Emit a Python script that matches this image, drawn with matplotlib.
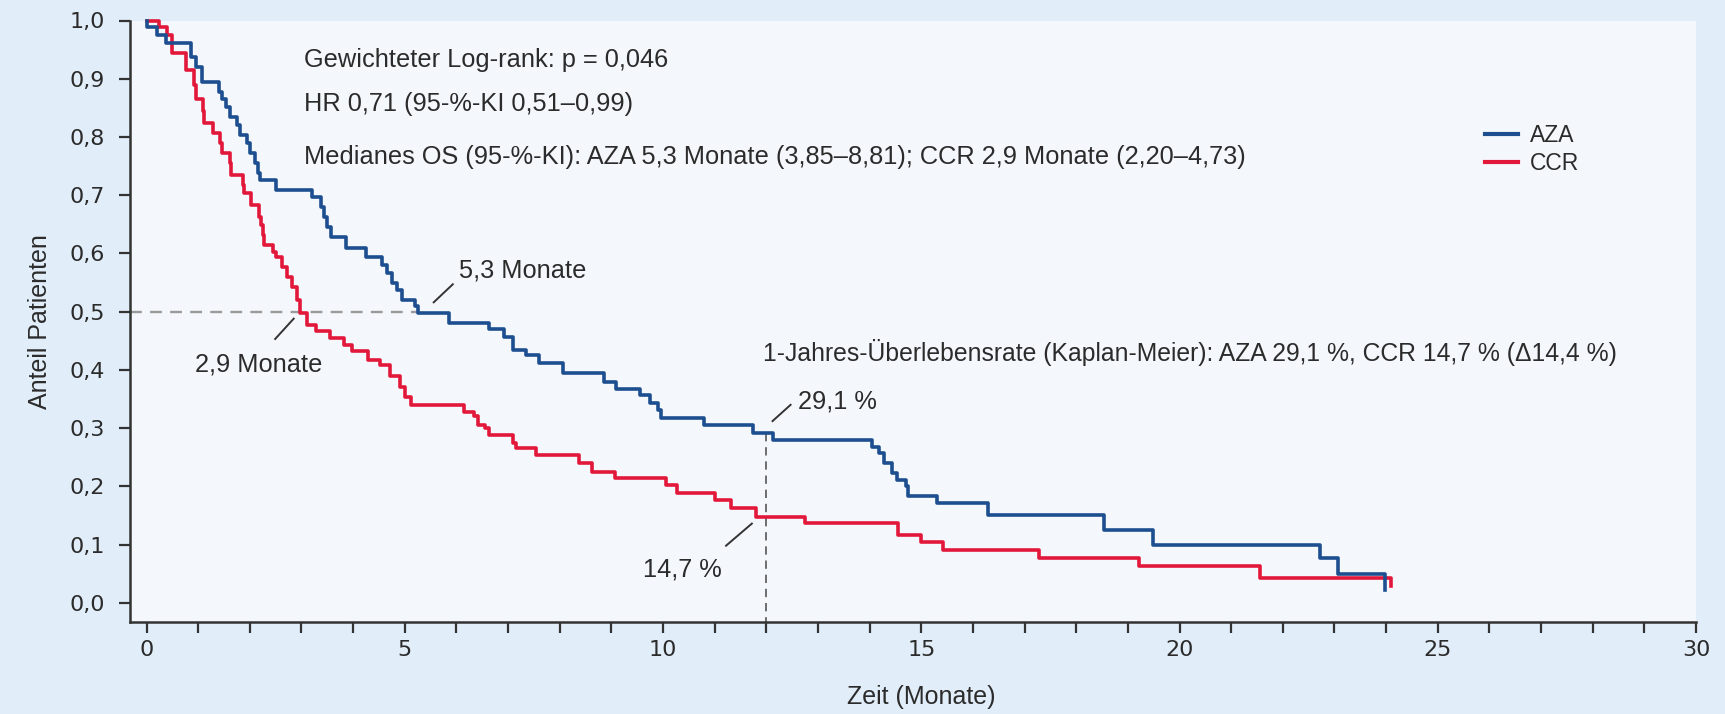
import matplotlib
matplotlib.use("Agg")
import matplotlib.pyplot as plt
from matplotlib.ticker import MultipleLocator, FuncFormatter

# ---- data ----
aza_t = [0, 0.01, 0.21, 0.37, 0.86, 0.95, 1.08, 1.40, 1.46, 1.53, 1.62, 1.75, 1.81, 1.94, 2.01, 2.10,
         2.16, 2.20, 2.50, 3.20, 3.38, 3.44, 3.50, 3.58, 3.86, 4.25, 4.55, 4.65, 4.75, 4.85, 4.95, 5.20,
         5.26, 5.86, 6.64, 6.92, 7.09, 7.35, 7.59, 8.06, 8.85, 9.09, 9.55, 9.74, 9.91, 9.96, 10.80,
         11.75, 12.12, 14.05, 14.18, 14.27, 14.44, 14.53, 14.70, 14.74, 15.30, 16.29, 18.53, 19.48,
         22.72, 23.06, 23.97]
aza_s = [1.0, 0.989, 0.975, 0.961, 0.938, 0.921, 0.895, 0.878, 0.865, 0.852, 0.835, 0.821, 0.804, 0.789,
         0.772, 0.755, 0.738, 0.726, 0.709, 0.697, 0.680, 0.663, 0.646, 0.629, 0.609, 0.594, 0.580, 0.566,
         0.549, 0.537, 0.520, 0.509, 0.497, 0.480, 0.471, 0.457, 0.434, 0.426, 0.411, 0.394, 0.380, 0.368,
         0.357, 0.343, 0.331, 0.317, 0.306, 0.291, 0.280, 0.268, 0.257, 0.240, 0.223, 0.211, 0.200, 0.183,
         0.171, 0.151, 0.125, 0.100, 0.077, 0.049, 0.022]

ccr_t = [0, 0.25, 0.40, 0.50, 0.76, 0.92, 0.95, 1.09, 1.11, 1.29, 1.43, 1.47, 1.61, 1.63, 1.87, 1.89,
         2.03, 2.18, 2.21, 2.26, 2.28, 2.45, 2.50, 2.62, 2.72, 2.82, 2.92, 2.97, 3.10, 3.28, 3.56, 3.82,
         3.97, 4.29, 4.53, 4.72, 4.91, 5.00, 5.13, 6.14, 6.34, 6.42, 6.55, 6.64, 7.09, 7.16, 7.54, 8.38,
         8.62, 9.07, 10.06, 10.28, 11.01, 11.32, 11.80, 12.74, 14.55, 15.00, 15.43, 17.28, 19.22, 21.55,
         24.10]
ccr_s = [1.0, 0.989, 0.975, 0.944, 0.915, 0.890, 0.866, 0.845, 0.824, 0.806, 0.789, 0.772, 0.755, 0.735,
         0.718, 0.703, 0.683, 0.663, 0.649, 0.632, 0.615, 0.603, 0.594, 0.577, 0.560, 0.543, 0.520, 0.497,
         0.477, 0.466, 0.454, 0.443, 0.432, 0.417, 0.409, 0.389, 0.371, 0.354, 0.340, 0.328, 0.320, 0.306,
         0.300, 0.288, 0.274, 0.266, 0.254, 0.240, 0.225, 0.214, 0.202, 0.188, 0.177, 0.162, 0.148, 0.137,
         0.117, 0.105, 0.091, 0.077, 0.063, 0.043, 0.028]

series_labels = ["AZA", "CCR"]
median_aza = 5.3
median_ccr = 2.9
year_time = 12
year_aza = 0.291
year_ccr = 0.147

x_ticks = [0, 5, 10, 15, 20, 25, 30]
y_ticks = [0.0, 0.1, 0.2, 0.3, 0.4, 0.5, 0.6, 0.7, 0.8, 0.9, 1.0]

# ---- style ----
BLUE = "#1d4e8f"
RED = "#e2183a"
TXT = "#2b2b2b"
FIG_BG = "#e1edf8"
AX_BG = "#f4f8fc"
FONT = ["Liberation Sans", "DejaVu Sans"]

fig = plt.figure(figsize=(17.25, 7.14), dpi=100, facecolor=FIG_BG)
ax = fig.add_axes([130 / 1725, (714 - 622) / 714, (1696 - 130) / 1725, (622 - 20.5) / 714])
ax.set_facecolor(AX_BG)

ax.plot(aza_t, aza_s, drawstyle="steps-post", color=BLUE, lw=2.6, clip_on=False, zorder=4,
        label=series_labels[0])
ax.plot(ccr_t, ccr_s, drawstyle="steps-post", color=RED, lw=2.6, clip_on=False, zorder=3,
        label=series_labels[1])

ax.set_xlim(-0.32, 30)
ax.set_ylim(-0.033, 1.0)

# reference lines
ax.plot([-0.32, median_aza], [0.5, 0.5], ls=(0, (5, 3.5)), color="#9a9a9a", lw=1.7, zorder=2)
ax.plot([year_time, year_time], [year_aza, -0.033], ls=(0, (5, 3.5)), color="#555555", lw=1.2,
        zorder=2, clip_on=False)

# spines / ticks
for s in ["top", "right"]:
    ax.spines[s].set_visible(False)
for s in ["left", "bottom"]:
    ax.spines[s].set_linewidth(1.8)
    ax.spines[s].set_color("#333333")
ax.spines["left"].set_bounds(-0.033, 1.0)

ax.set_xticks(x_ticks)
ax.xaxis.set_minor_locator(MultipleLocator(1))
ax.set_yticks(y_ticks)
ax.yaxis.set_major_formatter(FuncFormatter(lambda v, p: f"{v:.1f}".replace(".", ",")))
ax.xaxis.set_major_formatter(FuncFormatter(lambda v, p: f"{v:.0f}"))
ax.tick_params(axis="both", which="both", direction="out", length=8, width=1.6, color="#333333",
               labelsize=16, labelcolor=TXT)
ax.tick_params(axis="x", which="both", pad=5)
ax.tick_params(axis="y", which="major", pad=10)
for lab in ax.get_xticklabels() + ax.get_yticklabels():
    lab.set_fontfamily("DejaVu Sans")

ax.set_xlabel("Zeit (Monate)", fontsize=18, color=TXT, family=FONT)
ax.set_ylabel("Anteil Patienten", fontsize=18, color=TXT, family=FONT)
ax.xaxis.set_label_coords(0.505, -0.105)
ax.yaxis.set_label_coords(-0.05, 0.5)

# annotation texts
tk = dict(fontsize=18.3, color=TXT, family=FONT)
ax.text(3.05, 0.932, "Gewichteter Log-rank: p = 0,046", va="center", ha="left", **tk)
ax.text(3.05, 0.856, "HR 0,71 (95-%-KI 0,51–0,99)", va="center", ha="left", **tk)
ax.text(3.05, 0.766, "Medianes OS (95-%-KI): AZA 5,3 Monate (3,85–8,81); CCR 2,9 Monate (2,20–4,73)",
        va="center", ha="left", **tk)

ax.text(6.05, 0.57, "5,3 Monate", va="center", ha="left", **tk)
ax.plot([median_aza + 0.26, median_aza + 0.63], [0.516, 0.547], color="#333333", lw=1.4)

ax.text(0.93, 0.41, "2,9 Monate", va="center", ha="left", **tk)
ax.plot([median_ccr - 0.41, median_ccr - 0.05], [0.453, 0.488], color="#333333", lw=1.4)

ax.text(11.93, 0.43, "1-Jahres-Überlebensrate (Kaplan-Meier): AZA 29,1 %, CCR 14,7 % (Δ14,4 %)",
        va="center", ha="left", fontsize=17.8, color=TXT, family=FONT)

ax.text(12.62, 0.346, "29,1 %", va="center", ha="left", **tk)
ax.plot([year_time + 0.12, year_time + 0.47], [0.312, 0.34], color="#333333", lw=1.4)

ax.text(11.13, 0.058, "14,7 %", va="center", ha="right", **tk)
ax.plot([11.22, 11.72], [0.098, 0.136], color="#333333", lw=1.4)

leg = ax.legend(loc="center left", bbox_to_anchor=(0.858, 0.786), frameon=False,
                handlelength=1.45, handletextpad=0.5, labelspacing=0.22, borderpad=0,
                prop={"family": FONT, "size": 16.5})
for t in leg.get_texts():
    t.set_color(TXT)
for h in leg.get_lines():
    h.set_linewidth(3)

fig.savefig("out.png", dpi=100, facecolor=FIG_BG)
